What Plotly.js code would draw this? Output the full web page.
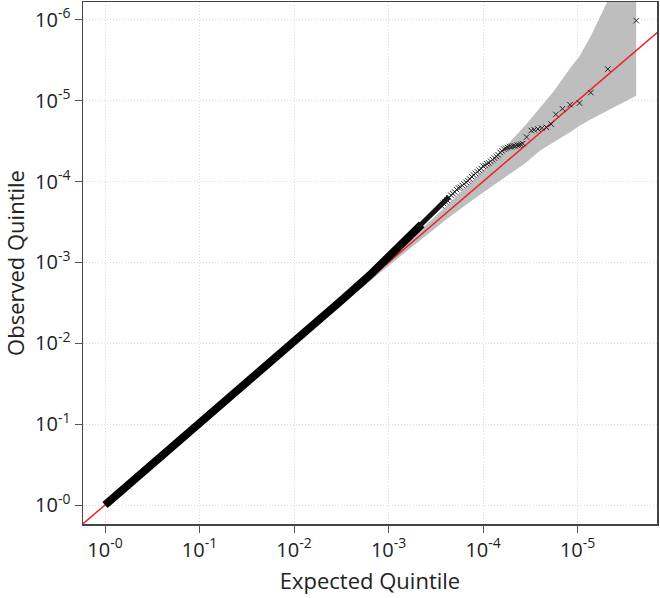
<!DOCTYPE html>
<html>
<head>
<meta charset="utf-8">
<script src="https://cdn.plot.ly/plotly-3.0.1.min.js"></script>
<style>html,body{margin:0;padding:0;background:#fff}#chart{width:660px;height:598px}</style>
</head>
<body>
<div id="chart"></div>
<script>
// -log10 scale values
const tickVals = [0, 1, 2, 3, 4, 5, 6];
const tickLabels = ['10<sup>-0</sup>', '10<sup>-1</sup>', '10<sup>-2</sup>', '10<sup>-3</sup>', '10<sup>-4</sup>', '10<sup>-5</sup>', '10<sup>-6</sup>'];

// confidence band (expected, upper, lower)
const ciX     = [0, 1, 2, 2.5, 3, 3.3, 3.6, 3.9, 4.1, 4.3, 4.45, 4.6, 4.75, 4.92, 5.02, 5.14, 5.32, 5.45, 5.62];
const ciUpper = [0, 1.003, 2.008, 2.524, 3.04, 3.36, 3.685, 4.02, 4.25, 4.51, 4.70, 4.91, 5.12, 5.40, 5.55, 5.80, 6.24, 6.7, 7.2];
const ciLower = [0, 0.997, 1.992, 2.477, 2.96, 3.24, 3.52, 3.78, 3.95, 4.11, 4.23, 4.38, 4.49, 4.61, 4.69, 4.77, 4.88, 4.96, 5.06];

// dense body of the points
const denseExp = [0, 1, 2, 2.5, 2.8, 3.0, 3.2, 3.35];
const denseObs = [0, 1.0, 2.01, 2.53, 2.84, 3.06, 3.29, 3.47];
// thinner continuation of the dense body
const midExp = [3.3, 3.4, 3.5, 3.58, 3.64];
const midObs = [3.42, 3.53, 3.65, 3.74, 3.81];

// individual points in the tail
const tailExp = [3.56, 3.58, 3.60, 3.62, 3.64, 3.66, 3.68, 3.70, 3.72, 3.74, 3.76, 3.78, 3.80, 3.82, 3.84, 3.86, 3.88, 3.90, 3.92, 3.94, 3.96, 3.98,
                 4.00, 4.02, 4.04, 4.06, 4.08, 4.10, 4.12, 4.14, 4.16, 4.18, 4.20, 4.22, 4.24, 4.26, 4.28, 4.30, 4.32, 4.34, 4.36, 4.38,
                 4.40, 4.42, 4.46, 4.51, 4.54, 4.58, 4.62, 4.67, 4.72, 4.77, 4.84, 4.92, 5.02, 5.14, 5.32, 5.62];
const tailObs = [3.70, 3.73, 3.75, 3.77, 3.80, 3.83, 3.85, 3.87, 3.90, 3.92, 3.93, 3.95, 3.97, 3.99, 4.01, 4.03, 4.06, 4.08, 4.10, 4.12, 4.14, 4.16,
                 4.19, 4.20, 4.22, 4.23, 4.25, 4.27, 4.29, 4.31, 4.33, 4.36, 4.38, 4.40, 4.41, 4.42, 4.43, 4.43, 4.44, 4.44, 4.45, 4.45,
                 4.46, 4.47, 4.55, 4.63, 4.64, 4.65, 4.66, 4.67, 4.71, 4.83, 4.90, 4.95, 4.97, 5.10, 5.39, 5.99];

// reference line y = x
const refLine = [-0.5, 6.5];

const bandX = ciX.concat(ciX.slice().reverse());
const bandY = ciUpper.concat(ciLower.slice().reverse());

const traces = [
  {x: bandX, y: bandY, type: 'scatter', mode: 'lines', fill: 'toself', fillcolor: '#bebebe',
   line: {width: 0, color: '#bebebe'}, hoverinfo: 'skip', showlegend: false},
  {x: refLine, y: refLine, type: 'scatter', mode: 'lines', line: {color: '#e8262b', width: 1.5}, showlegend: false},
  {x: denseExp, y: denseObs, type: 'scatter', mode: 'lines', line: {color: '#000', width: 8}, showlegend: false},
  {x: midExp, y: midObs, type: 'scatter', mode: 'lines', line: {color: '#111', width: 5}, showlegend: false},
  {x: tailExp, y: tailObs, type: 'scatter', mode: 'markers',
   marker: {symbol: 'x-thin-open', size: 5.5, color: '#222', line: {color: '#222', width: 1}}, showlegend: false}
];

const axisCommon = {
  tickmode: 'array', tickvals: tickVals, ticktext: tickLabels,
  showgrid: true, gridcolor: '#dcdcdc', griddash: '1px,2px', gridwidth: 1,
  zeroline: false, showline: true, mirror: true, linecolor: '#444', linewidth: 1.5,
  ticks: 'outside', ticklen: 7, tickcolor: '#555', tickwidth: 1,
  tickfont: {family: 'Open Sans, sans-serif', size: 20, color: '#222'}
};

const layout = {
  width: 660, height: 598,
  margin: {l: 83, r: 3, t: 2, b: 74},
  paper_bgcolor: '#fff', plot_bgcolor: '#fff',
  showlegend: false,
  xaxis: Object.assign({}, axisCommon, {
    range: [-0.233, 5.84],
    title: {text: 'Expected Quintile', font: {family: 'Open Sans, sans-serif', size: 22, color: '#222'}, standoff: 12}
  }),
  yaxis: Object.assign({}, axisCommon, {
    range: [-0.235, 6.22],
    title: {text: 'Observed Quintile', font: {family: 'Open Sans, sans-serif', size: 22, color: '#222'}, standoff: 8}
  })
};

Plotly.newPlot('chart', traces, layout, {displayModeBar: false, staticPlot: true});
</script>
</body>
</html>
